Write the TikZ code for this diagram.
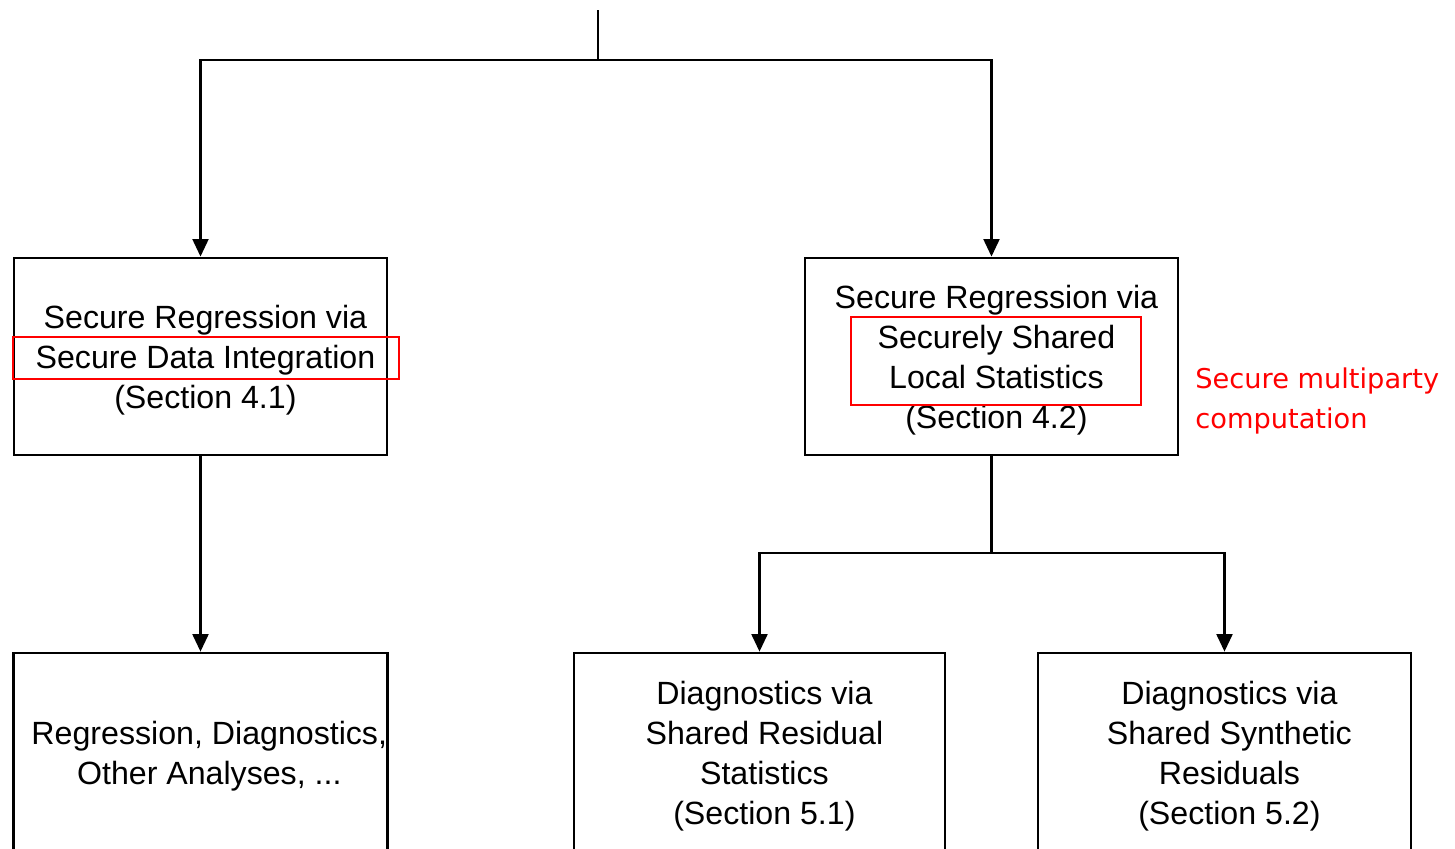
\documentclass[tikz,border=0pt]{standalone}
\usepackage{fontspec}
\setmainfont{Liberation Sans}
\newfontfamily\notefont{DejaVu Sans}
\usetikzlibrary{arrows.meta}

\tikzset{
    secbox/.style={draw, line width=1.6pt, minimum width=7.46cm, minimum height=3.94cm,
        align=center, inner sep=0pt, font=\fontsize{18.3}{22.8}\selectfont},
    shifted/.style={text width=7.4cm, align=flush center,
        execute at begin node={\advance\leftskip 5.6pt\rule{0pt}{17.7pt}}},
    link/.style={line width=1.5pt},
    linkarrow/.style={link, -{Triangle[length=10pt,width=9pt]}},
    markbox/.style={draw=red, line width=0.8pt},
    notetext/.style={text=red, align=left, inner sep=0pt, font=\notefont\fontsize{15.5}{22.8}\selectfont},
}

\begin{document}
\begin{tikzpicture}[x=0.02cm, y=-0.02cm]
            \useasboundingbox (0, 0) rectangle (1455, 849);

            % Boxes
            \node [secbox, shifted] (integ) at (200.5, 356.5) {Secure Regression via\\Secure Data Integration\\(Section 4.1)};
            \node [secbox, shifted] (shared) at (991.5, 356.5) {Secure Regression via\\Securely Shared\\Local Statistics\\(Section 4.2)};
            \node [secbox, minimum height=3.97cm] (other) at (200.5, 752.3) {\rule{0pt}{17.7pt}\hspace*{10pt}Regression, Diagnostics,\\\hspace*{10pt}Other Analyses, ...};
            \node [secbox, shifted, minimum width=7.42cm, text width=7.36cm, minimum height=3.97cm] (resid) at (759.5, 752.3) {Diagnostics via\\Shared Residual\\Statistics\\(Section 5.1)};
            \node [secbox, shifted, minimum height=3.97cm] (synth) at (1224.5, 752.3) {Diagnostics via\\Shared Synthetic\\Residuals\\(Section 5.2)};

            % Red marks
            \draw [markbox] (13, 337) rectangle (399, 379);
            \draw [markbox] (851, 317) rectangle (1141, 405);
            \node [notetext, anchor=west] (note) at (1195, 401) {Secure multiparty\\computation};

            % Connectors
            \coordinate (top) at (598, 10);
            \coordinate (fork) at (598, 60);
            \coordinate (fork2) at (991.5, 553);

            \draw [link] (top) -- (fork);
            \draw [linkarrow] (fork) -| (integ.north);
            \draw [linkarrow] (fork) -| (shared.north);
            \draw [linkarrow] (integ.south) -- (other.north);
            \draw [link] (shared.south) -- (fork2);
            \draw [linkarrow] (fork2) -| (resid.north);
            \draw [linkarrow] (fork2) -| (synth.north);

        \end{tikzpicture}
\end{document}
